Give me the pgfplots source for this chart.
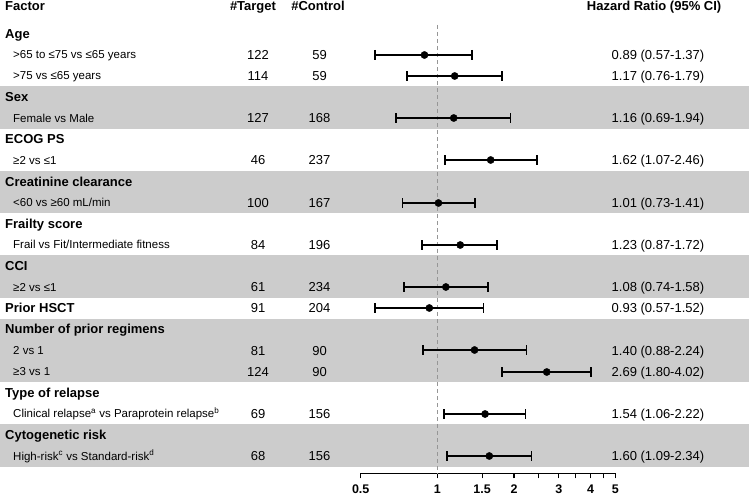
\documentclass[border=0pt]{standalone}
\usepackage{pgfplots}
\pgfplotsset{compat=1.18}
\usepackage{pgfplotstable}
\usepackage{fontspec}
\setmainfont{Liberation Sans}

\definecolor{band}{RGB}{204,204,204}
\definecolor{refline}{RGB}{150,150,150}

% row position: y (pt from top) ~ 33.5 + 21.13*k, snapped to whole points
\pgfplotstableread{
y    hr   lo   hi
55   0.89 0.57 1.37
76   1.17 0.76 1.79
118  1.16 0.69 1.94
160  1.62 1.07 2.46
203  1.01 0.73 1.41
245  1.23 0.87 1.72
287  1.08 0.74 1.58
308  0.93 0.57 1.52
350  1.40 0.88 2.24
372  2.69 1.80 4.02
414  1.54 1.06 2.22
456  1.60 1.09 2.34
}\hrdata

\newcommand\hdfont{\bfseries\fontsize{13}{15}\selectfont}
\newcommand\subfont{\fontsize{11.5}{13}\selectfont}
\newcommand\numfont{\fontsize{13}{15}\selectfont}

\newcommand\hd[2]{\node[anchor=base west,font=\hdfont,inner sep=0pt] at (5,{-33.5-21.13*#1-4.65}) {#2};}
\newcommand\sub[2]{\node[anchor=base west,font=\subfont,inner sep=0pt] at (13,{-33.5-21.13*#1-4.1}) {#2};}
\newcommand\vals[4]{%
  \node[anchor=base,font=\numfont,inner sep=0pt] at (258,{-33.5-21.13*#1-4.65}) {#2};
  \node[anchor=base,font=\numfont,inner sep=0pt] at (319.5,{-33.5-21.13*#1-4.65}) {#3};
  \node[anchor=base west,font=\numfont,inner sep=0pt] at (611.5,{-33.5-21.13*#1-4.65}) {#4};}
\newcommand\band[2]{\fill[band] (0,{-33.5-21.13*(#1-0.5)}) rectangle (749,{-33.5-21.13*(#2+0.5)});}

\begin{document}
\begin{tikzpicture}[x=1pt,y=1pt]
\useasboundingbox (0,0) rectangle (749,-495);

\band{3}{4}
\band{7}{8}
\band{11}{12}
\band{14}{16}
\band{19}{20}

\begin{axis}[
  at={(360.7pt,-473.3pt)}, anchor=south west,
  scale only axis, width=254.6pt, height=473.3pt,
  xmode=log, xmin=0.5, xmax=5, ymin=-473.3, ymax=0,
  enlargelimits=false, clip=false,
  axis y line=none, axis x line=bottom,
  x axis line style={-, line width=1.3pt},
  xtick={0.5,1,1.5,2,2.5,3,3.5,4,4.5,5},
  xticklabels={0.5,1,1.5,2,,3,,4,,5},
  minor xtick={}, tick align=outside, major tick length=5pt,
  xtick style={black, line width=1.2pt},
  xticklabel style={font=\bfseries\fontsize{12.5}{14}\selectfont, inner sep=0pt, yshift=-6pt},
]
\addplot[refline, dash pattern=on 4pt off 3pt, line width=0.8pt] coordinates {(1,-25) (1,-473.3)};
% confidence intervals
\addplot[draw=none, mark=none,
  error bars/.cd, x dir=both, x explicit, error mark=none,
  error bar style={line width=2pt, black}]
  table[x=hr, y expr=-\thisrow{y},
        x error plus expr=\thisrow{hi}-\thisrow{hr},
        x error minus expr=\thisrow{hr}-\thisrow{lo}] {\hrdata};
% end caps
\addplot[only marks, mark=|, mark size=5pt, black, mark options={line width=1.7pt}]
  table[x=lo, y expr=-\thisrow{y}] {\hrdata};
\addplot[only marks, mark=|, mark size=5pt, black, mark options={line width=1.7pt}]
  table[x=hi, y expr=-\thisrow{y}] {\hrdata};
% point estimates
\addplot[only marks, mark=*, mark size=3.6pt, black]
  table[x=hr, y expr=-\thisrow{y}] {\hrdata};
\end{axis}

% header
\node[anchor=base west,font=\hdfont,inner sep=0pt] at (5,-10.6) {Factor};
\node[anchor=base,font=\hdfont,inner sep=0pt] at (253,-10.6) {\#Target};
\node[anchor=base,font=\hdfont,inner sep=0pt] at (318,-10.6) {\#Control};
\node[anchor=base west,font=\hdfont,inner sep=0pt] at (586.7,-10.6) {Hazard Ratio (95\% CI)};

\hd{0}{Age}
\sub{1}{>65 to ≤75 vs ≤65 years} \vals{1}{122}{59}{0.89 (0.57-1.37)}
\sub{2}{>75 vs ≤65 years}        \vals{2}{114}{59}{1.17 (0.76-1.79)}
\hd{3}{Sex}
\sub{4}{Female vs Male}          \vals{4}{127}{168}{1.16 (0.69-1.94)}
\hd{5}{ECOG PS}
\sub{6}{≥2 vs ≤1}                \vals{6}{46}{237}{1.62 (1.07-2.46)}
\hd{7}{Creatinine clearance}
\sub{8}{<60 vs ≥60 mL/min}       \vals{8}{100}{167}{1.01 (0.73-1.41)}
\hd{9}{Frailty score}
\sub{10}{Frail vs Fit/Intermediate fitness} \vals{10}{84}{196}{1.23 (0.87-1.72)}
\hd{11}{CCI}
\sub{12}{≥2 vs ≤1}               \vals{12}{61}{234}{1.08 (0.74-1.58)}
\hd{13}{Prior HSCT}              \vals{13}{91}{204}{0.93 (0.57-1.52)}
\hd{14}{Number of prior regimens}
\sub{15}{2 vs 1}                 \vals{15}{81}{90}{1.40 (0.88-2.24)}
\sub{16}{≥3 vs 1}                \vals{16}{124}{90}{2.69 (1.80-4.02)}
\hd{17}{Type of relapse}
\sub{18}{Clinical relapse\textsuperscript{a} vs Paraprotein relapse\textsuperscript{b}} \vals{18}{69}{156}{1.54 (1.06-2.22)}
\hd{19}{Cytogenetic risk}
\sub{20}{High-risk\textsuperscript{c} vs Standard-risk\textsuperscript{d}} \vals{20}{68}{156}{1.60 (1.09-2.34)}
\end{tikzpicture}
\end{document}
